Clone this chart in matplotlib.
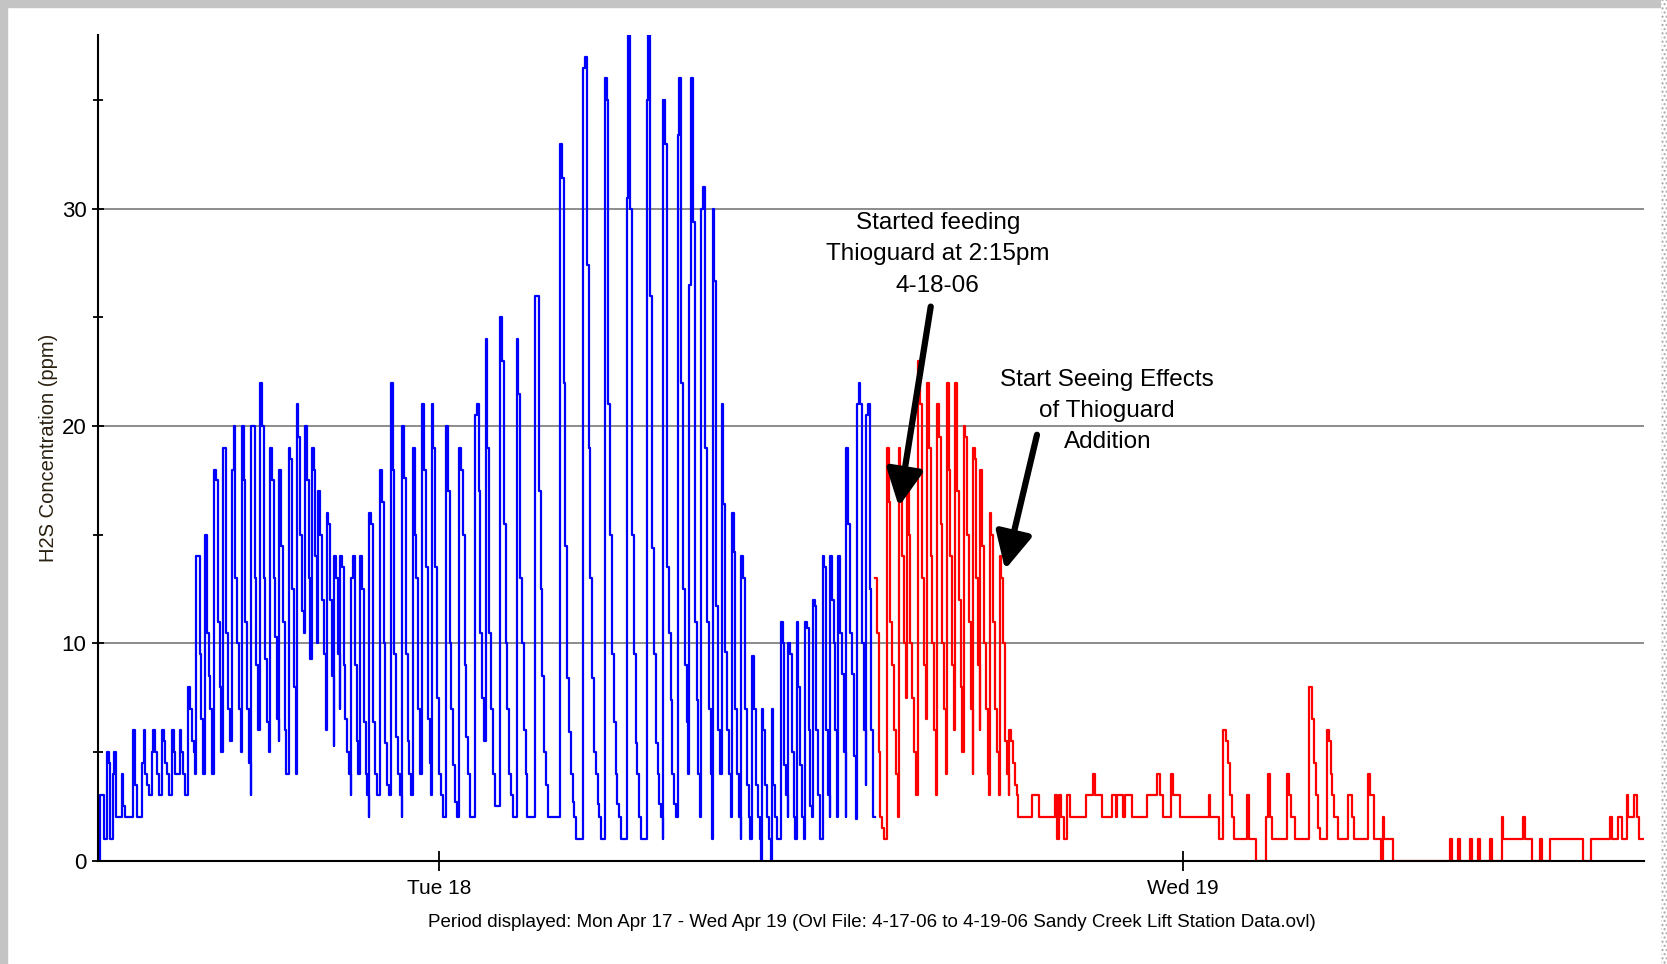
import matplotlib
matplotlib.use("Agg")
import matplotlib.pyplot as plt
from matplotlib.patches import Rectangle

plt.rcParams["font.family"] = ["Liberation Sans", "DejaVu Sans"]

# time axis: hours since Mon Apr 17 13:00, one reading every 3.5 minutes
DT = 3.5 / 60
END = 49.9
day_ticks = [11, 35]
day_labels = ["Tue 18", "Wed 19"]

# blue: before Thioguard feed. each burst starts at the given hour
blue_start = [
    0.00, 0.19, 0.27, 0.38, 0.46, 0.57, 0.75, 0.86, 1.13, 1.24, 1.40, 1.72,
    2.05, 2.37, 2.62, 2.80, 2.90, 3.15, 3.44, 3.74, 4.02, 4.31, 4.63, 4.93,
    5.22, 5.54, 5.84, 6.14, 6.40, 6.67, 6.89, 7.10, 7.37, 7.62, 7.80, 8.16,
    8.45, 8.75, 9.09, 9.44, 9.81, 10.15, 10.46, 10.76, 11.22, 11.65, 12.16,
    12.50, 12.97, 13.50, 14.10, 14.90, 15.65, 16.35, 17.05, 17.70, 18.24,
    18.70, 19.08, 19.47, 19.83, 20.12, 20.45, 20.76, 21.11, 21.41, 21.73,
    22.03, 22.27, 22.54, 22.81, 23.06, 23.38, 23.62, 23.89, 24.15, 24.48, 24.78,
]
blue_ppm = [
    [0, 3, 3, 2.5], [1, 1], [5, 4.5], [1], [4, 5, 4.5], [2], [4, 2.5], [2],
    [6, 3.5], [2], [4.5, 6, 4, 3.5, 3], [5, 6, 5, 4, 3],
    [6, 5.5, 4.5, 4, 3], [6, 5, 4], [6, 5, 4], [3],
    [8, 7, 5.5, 5, 4], [14, 14, 9.5, 6.5, 4], [15, 10.5, 8.5, 7, 4],
    [18, 17.5, 11, 8, 5, 4], [19, 19, 10.5, 7, 5.5, 4], [18, 20, 13, 10, 7, 5],
    [20, 17.5, 11, 7, 4.5, 3], [20, 20, 13, 9, 6, 5],
    [22, 20, 13, 9.3, 6.4, 5, 4], [19, 17.5, 13, 10.3, 6.5, 5.5],
    [18, 14.5, 11, 6, 4], [19, 18.5, 12.5, 8, 4], [21, 19.5, 15, 11.5, 10.5, 7],
    [20, 17.5, 13, 9.3, 7], [19, 18, 14, 10, 7.5], [17, 15, 12, 9.5, 6, 5.3],
    [16, 15.5, 12, 8.5, 5.3], [14, 13, 9.5, 7, 5], [14, 13.5, 9, 6.5, 5, 4, 3],
    [13, 14, 9, 5.5, 4, 3], [14, 12.5, 6.4, 4, 3, 2], [16, 15.5, 6.4, 4, 3],
    [18, 16.5, 10, 5.4, 3.5, 3], [22, 18, 9.5, 5.7, 4, 3, 2],
    [20, 17.6, 9.5, 5.5, 4, 3], [19, 15, 13, 7, 4], [21, 18, 13.5, 6.5, 4.5, 3],
    [21, 19, 13.5, 7.5, 4, 3, 2], [20, 17, 10, 7, 4.4, 2.7, 2],
    [19, 18, 15, 9, 5.7, 4, 2], [20.5, 21, 17, 10.5, 7.5, 5.5, 4],
    [24, 19, 10.5, 7, 4, 2.5], [25, 23, 15.5, 10, 7, 4, 3, 2],
    [24, 21.5, 13, 10, 6, 4, 2], [26, 26, 17, 12.5, 8.5, 5, 3.5, 2],
    [33, 31.4, 22, 14.5, 8.4, 5.9, 4, 2.7, 2, 1],
    [36.5, 37, 27.4, 19, 13, 8.4, 5, 4, 2.6, 2, 1],
    [36, 35, 21, 15, 9.5, 6.4, 4, 2.6, 2, 1],
    [30.5, 38, 30, 15, 9.5, 5.4, 4, 2, 1],
    [35, 38, 26, 14.4, 9.5, 5.4, 4, 2.6, 2, 1],
    [35, 33, 13.5, 10.5, 7.4, 4, 2.6, 2, 1],
    [33.4, 36, 22, 12.5, 9, 6.4, 4, 2, 1],
    [26.5, 36, 29.4, 11, 7.4, 4, 2, 1],
    [30, 31, 19, 11, 7, 4, 1], [30, 26.7, 11.7, 6, 4, 2, 1],
    [21, 16.4, 9.6, 6, 4, 2, 1], [16, 14.2, 7, 4, 2, 1], [14, 13, 7, 3.5, 2, 1],
    [9.4, 7, 3.5, 2, 1, 0], [7, 6, 3.5, 2, 1, 0], [7, 3.5, 2, 1],
    [11, 10, 4.4, 3, 2, 1], [10, 9.5, 5, 2, 1], [11, 8, 4.4, 2, 1],
    [11, 10.7, 6, 2.5, 2, 1, 0], [12, 11.7, 6, 3, 1], [14, 13.5, 6, 3, 2, 1],
    [14, 12, 10, 6, 2, 1], [14, 10.5, 8.6, 5, 2, 1],
    [19, 15.5, 10.5, 8.6, 4.8, 1.9, 1], [21, 22, 21, 10, 6, 3.5, 2, 1],
    [20.5, 21, 12.5, 6, 2, 1],
]

# red: after Thioguard feed started
red_start = [
    25.07, 25.45, 25.83, 26.10, 26.47, 26.75, 27.07, 27.39, 27.66, 27.93,
    28.23, 28.47, 28.77, 29.09, 29.41, 30.13, 30.38, 30.89, 31.16, 31.26,
    31.35, 31.89, 32.10, 32.39, 32.72, 33.36, 33.47, 33.85, 34.17, 34.38,
    34.62, 34.92, 35.84, 36.16, 36.30, 37.08, 37.38, 37.70, 38.37, 38.64,
    39.07, 39.66, 40.35, 40.99, 41.40, 41.80, 43.63, 43.90, 44.27, 44.54,
    44.92, 45.30, 46.00, 46.27, 46.53, 46.86, 47.93, 48.20, 48.80, 49.06, 49.33,
]
red_ppm = [
    [13, 10.5, 5, 2, 1.5, 1], [19, 16.5, 11, 9, 6, 4, 2], [19, 17, 14, 10, 7.5, 4, 2],
    [17.5, 15, 10, 7.5, 5, 3], [23, 21, 13, 9, 6.5, 4, 3], [22, 19, 14, 10, 6, 3],
    [21, 19.5, 15.5, 10, 7, 4], [22, 18, 14, 9, 6, 3], [22, 17, 12, 8, 5, 3],
    [20, 19.5, 15, 11, 7, 4], [19, 18.5, 13, 9, 6, 3], [18, 14.5, 10, 7, 4, 3],
    [16, 15, 11, 7, 5, 3], [14, 13, 10, 5.5, 4, 3], [6, 5.5, 4.5, 3.5, 3, 2],
    [3], [2], [3, 1, 3, 2], [1], [3], [2], [3], [4, 3], [2],
    [3, 3, 2, 3, 3, 3, 2, 3, 3, 3], [2, 2, 1, 2], [2], [3], [4, 4, 3], [2],
    [4, 3], [2], [3, 2], [1], [6, 6, 5.5, 4.5, 3, 2, 1], [3, 1], [0],
    [2, 4, 2, 1], [4, 3, 2], [1], [8, 8, 6.5, 4.5, 3, 1.5, 1],
    [6, 5.5, 4, 3, 2, 2, 1], [3, 3, 2, 1], [4, 3, 3, 1], [0, 2, 1], [0],
    [1, 0], [1, 0], [1, 0], [1, 0], [1, 0], [2, 1], [2, 1], [0], [1, 0], [1],
    [0], [1], [2, 1], [2, 2, 1], [3, 2, 2, 2, 3, 3, 2, 1],
]


def build(starts, bursts, stop_at):
    t, v = [], []
    for i, (s, vals) in enumerate(zip(starts, bursts)):
        nxt = starts[i + 1] if i + 1 < len(starts) else stop_at
        for k, val in enumerate(vals):
            if s + k * DT >= nxt:
                break
            t.append(s + k * DT)
            v.append(val)
    t.append(stop_at)
    v.append(v[-1])
    return t, v


bt, bv = build(blue_start, blue_ppm, red_start[0])
rt, rv = build(red_start, red_ppm, END)

fig = plt.figure(figsize=(16.67, 9.64), dpi=100)
ax = fig.add_axes([0.059, 0.1072, 0.9273, 0.8565])

ax.step(bt, bv, where="post", color="#0000ff", lw=1.6)
ax.step(rt, rv, where="post", color="#ff0000", lw=1.6)

ax.set_xlim(0, END)
ax.set_ylim(0, 38)
for g in [10, 20, 30]:
    ax.axhline(g, color="#8c8c8c", lw=1.4, zorder=0)

for s in ["top", "right"]:
    ax.spines[s].set_visible(False)
for s in ["left", "bottom"]:
    ax.spines[s].set_linewidth(1.5)

ax.set_yticks([0, 10, 20, 30])
ax.set_yticks([5, 15, 25, 35], minor=True)
ax.set_xticks(day_ticks)
ax.set_xticklabels(day_labels, fontsize=15)
ax.tick_params(axis="y", direction="inout", length=9, width=1.3, labelsize=16, pad=4)
ax.tick_params(axis="y", which="minor", direction="inout", length=7, width=1.3)
ax.tick_params(axis="x", direction="inout", length=14, width=1.3, pad=6)

ax.set_ylabel("H2S Concentration (ppm)", fontsize=14.5, color="#2a2010")
ax.yaxis.set_label_coords(-0.0258, 0.5)
fig.text(0.523, 0.043, "Period displayed: Mon Apr 17 - Wed Apr 19 (Ovl File: 4-17-06 to "
         "4-19-06 Sandy Creek Lift Station Data.ovl)", ha="center", va="center",
         fontsize=13.5)

arrow = dict(arrowstyle="-|>,head_length=1.3,head_width=0.65", color="black",
             lw=4.5, shrinkA=0, shrinkB=0, mutation_scale=17)
ax.text(27.1, 27.9, "Started feeding\nThioguard at 2:15pm\n4-18-06", ha="center",
        va="center", fontsize=17.5, linespacing=1.55)
ax.annotate("", xy=(25.84, 16.3), xytext=(26.87, 25.5), arrowprops=arrow)
ax.text(32.57, 20.7, "Start Seeing Effects\nof Thioguard\nAddition", ha="center",
        va="center", fontsize=17.5, linespacing=1.55)
ax.annotate("", xy=(29.27, 13.4), xytext=(30.3, 19.6), arrowprops=arrow)

# window frame around the screenshot
frame = "#c4c4c4"
fig.patches.append(Rectangle((0, 0.9927), 1, 0.0073, transform=fig.transFigure, color=frame))
fig.patches.append(Rectangle((0, 0), 0.0039, 1, transform=fig.transFigure, color=frame))
fig.patches.append(Rectangle((0.9965, 0), 0.0035, 1, transform=fig.transFigure,
                             facecolor="white", edgecolor="#a8a8a8", hatch="....", lw=0))

fig.savefig("out.png", dpi=100)
